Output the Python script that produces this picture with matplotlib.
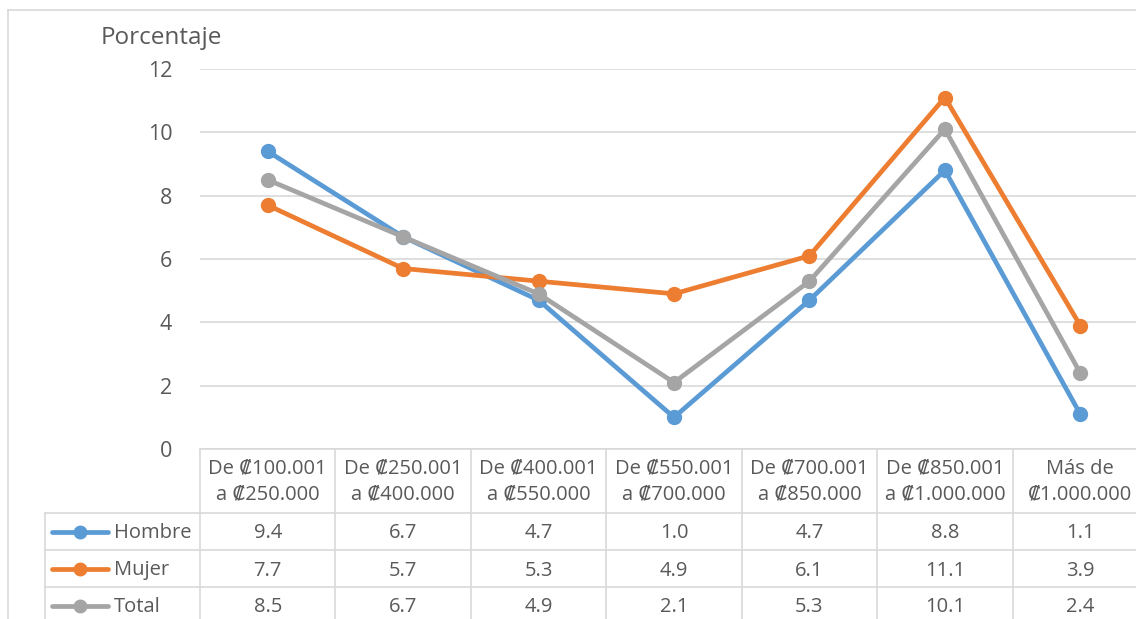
import matplotlib
matplotlib.use("Agg")
import matplotlib.pyplot as plt
import matplotlib.transforms as mtransforms
from matplotlib.lines import Line2D

categories = ["De ₡100.001\na ₡250.000", "De ₡250.001\na ₡400.000", "De ₡400.001\na ₡550.000",
              "De ₡550.001\na ₡700.000", "De ₡700.001\na ₡850.000", "De ₡850.001\na ₡1.000.000",
              "Más de\n₡1.000.000"]
series_names = ["Hombre", "Mujer", "Total"]
hombre = [9.4, 6.7, 4.7, 1.0, 4.7, 8.8, 1.1]
mujer = [7.7, 5.7, 5.3, 4.9, 6.1, 11.1, 3.9]
total = [8.5, 6.7, 4.9, 2.1, 5.3, 10.1, 2.4]
yticks = [0, 2, 4, 6, 8, 10, 12]
y_label = "Porcentaje"

colors = ["#5B9BD5", "#ED7D31", "#A5A5A5"]
values = [hombre, mujer, total]
TXT = "#595959"
GRID = "#D9D9D9"
FONT = ["Open Sans", "DejaVu Sans"]
plt.rcParams['font.family'] = FONT

W, H = 1136, 619
fig = plt.figure(figsize=(W / 100, H / 100), dpi=100)

def fx(px):
    return px / W

def fy(py):
    return 1 - py / H

# plot area: x 200..1148 px, y 69..449 px
ax = fig.add_axes([fx(200), fy(449), fx(948), (449 - 69) / H])
ax.set_xlim(-0.5, len(categories) - 0.5)
ax.set_ylim(0, 12)
ax.set_yticks(yticks)
ax.set_yticklabels([str(t) for t in yticks])
ax.tick_params(axis='y', length=0, pad=20, labelsize=15.5, labelcolor=TXT)
ax.set_xticks([])
for s in ["top", "right", "left"]:
    ax.spines[s].set_visible(False)
ax.spines["bottom"].set_color(GRID)
ax.spines["bottom"].set_linewidth(1.2)
ax.grid(axis='y', color=GRID, linewidth=1.2)
ax.set_axisbelow(True)

x = list(range(len(categories)))
for vals, c in zip(values, colors):
    ax.plot(x, vals, color=c, linewidth=3.4, marker='o', markersize=10,
            solid_capstyle='round', clip_on=False, zorder=3)

# y label
fig.text(fx(161), fy(38), y_label, ha='center', va='center', fontsize=17.5, color=TXT)

# chart border (left & top visible)
fig.add_artist(Line2D([fx(8), fx(8)], [fy(10), fy(619)], color=GRID, lw=1.2))
fig.add_artist(Line2D([fx(8), fx(1136)], [fy(10), fy(10)], color=GRID, lw=1.2))

# data table
bt = mtransforms.blended_transform_factory(ax.transData, fig.transFigure)
row_tops = [513, 550, 587, 624]
for ry in row_tops[:3]:
    fig.add_artist(Line2D([fx(45), fx(1136)], [fy(ry), fy(ry)], color=GRID, lw=1.2))
fig.add_artist(Line2D([fx(45), fx(45)], [fy(513), fy(619)], color=GRID, lw=1.2))
for i in range(len(categories) + 1):
    xb = i - 0.5
    l = Line2D([xb, xb], [fy(449), fy(619)], color=GRID, lw=1.2, transform=bt)
    l.set_clip_on(False)
    fig.add_artist(l)

# headers
for i, cat in enumerate(categories):
    fig.text(i, fy(482), cat, transform=bt, ha='center', va='center', fontsize=14.5,
             color=TXT, linespacing=1.4)

# rows
for r, (name, vals, c) in enumerate(zip(series_names, values, colors)):
    yl = fy((row_tops[r] + row_tops[r + 1]) / 2)
    yc = fy((row_tops[r] + row_tops[r + 1]) / 2 + 2)
    fig.add_artist(Line2D([fx(52), fx(108)], [yl, yl], color=c, lw=3.4,
                          solid_capstyle='round'))
    fig.add_artist(Line2D([fx(80)], [yl], color=c, marker='o', markersize=9, lw=0))
    fig.text(fx(114), yc, name, ha='left', va='center', fontsize=14.5, color=TXT)
    for i, v in enumerate(vals):
        fig.text(i, yc, f"{v:.1f}", transform=bt, ha='center', va='center',
                 fontsize=14.5, color=TXT)

fig.savefig("out.png", dpi=100, facecolor="white")
